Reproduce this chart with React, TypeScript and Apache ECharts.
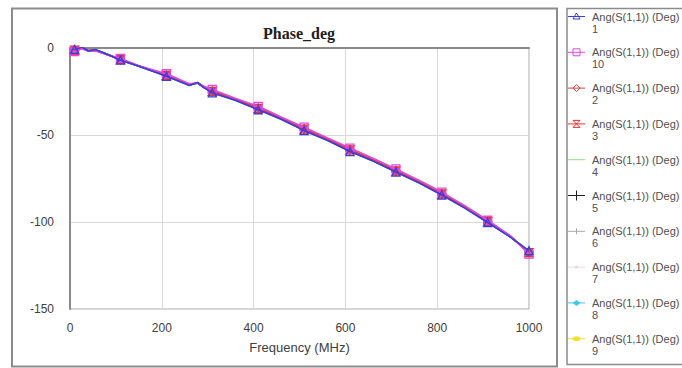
import React, { useEffect, useRef } from "react";
import * as echarts from "echarts";

// ---- data ----
const FREQ_MHZ = [10, 26, 40, 55, 80, 110, 150, 210, 260, 278, 290, 310, 360, 410, 460, 510, 560, 610, 660, 710, 760, 810, 860, 910, 960, 1000];
const MARKER_FREQ = [10, 110, 210, 310, 410, 510, 610, 710, 810, 910, 1000];
const X_TICKS = [0, 200, 400, 600, 800, 1000];
const Y_TICKS = [0, -50, -100, -150];

const S1 = [-0.8, 0.6, -1.7, -0.9, -3.5, -7.0, -10.5, -16.3, -21.5, -19.8, -22.5, -25.8, -30.0, -35.5, -41.0, -47.5, -53.0, -59.5, -65.0, -71.3, -77.5, -84.5, -92.0, -100.3, -108.8, -116.5];
const S10 = [-2.0, -0.5, -1.8, -1.6, -3.8, -6.0, -10.2, -14.8, -20.6, -20.0, -21.8, -23.8, -28.9, -33.5, -39.6, -45.5, -51.6, -57.5, -63.4, -69.5, -76.0, -82.8, -90.6, -99.0, -108.0, -118.5];
const S2 = [-1.5, 0.0, -1.5, -1.4, -3.7, -6.5, -10.4, -15.5, -21.0, -20.1, -22.0, -24.6, -29.4, -34.4, -40.2, -46.3, -52.2, -58.3, -64.2, -70.4, -76.7, -83.6, -91.2, -99.6, -108.3, -117.8];
const S3 = [-1.3, 0.2, -1.6, -1.2, -3.6, -6.6, -10.3, -15.7, -21.1, -20.0, -22.2, -24.9, -29.6, -34.7, -40.5, -46.6, -52.5, -58.6, -64.5, -70.7, -77.0, -83.9, -91.4, -99.8, -108.5, -117.6];
const S4 = [-1.2, 0.3, -1.5, -1.1, -3.6, -6.8, -10.5, -15.9, -21.2, -20.2, -22.3, -25.1, -29.8, -34.9, -40.7, -46.9, -52.7, -58.9, -64.7, -70.9, -77.2, -84.1, -91.6, -100.0, -108.6, -117.4];
const S5 = [-1.1, 0.4, -1.6, -1.0, -3.5, -6.9, -10.4, -16.0, -21.3, -20.0, -22.4, -25.3, -29.9, -35.0, -40.8, -47.1, -52.8, -59.1, -64.8, -71.0, -77.3, -84.2, -91.7, -100.1, -108.6, -117.2];
const S6 = [-1.4, 0.1, -1.7, -1.3, -3.7, -6.7, -10.6, -15.8, -21.0, -20.3, -22.1, -25.0, -29.7, -34.8, -40.6, -46.8, -52.6, -58.8, -64.6, -70.8, -77.1, -84.0, -91.5, -99.9, -108.4, -117.3];
const S7 = [-1.6, -0.2, -1.6, -1.5, -3.8, -6.4, -10.3, -15.4, -20.9, -20.2, -21.9, -24.5, -29.3, -34.2, -40.0, -46.1, -52.0, -58.1, -64.0, -70.2, -76.5, -83.4, -91.0, -99.5, -108.2, -118.0];
const S8 = [-1.0, 0.5, -1.5, -0.9, -3.4, -7.0, -10.5, -16.1, -21.4, -19.9, -22.5, -25.5, -30.0, -35.2, -40.9, -47.2, -52.9, -59.2, -64.9, -71.1, -77.4, -84.3, -91.8, -100.2, -108.7, -117.0];
const S9 = [-1.3, 0.2, -1.6, -1.2, -3.6, -6.6, -10.4, -15.6, -21.0, -20.1, -22.1, -24.8, -29.5, -34.5, -40.3, -46.4, -52.3, -58.4, -64.3, -70.5, -76.8, -83.7, -91.3, -99.7, -108.4, -117.7];

const LEGEND_ORDER = ["1", "10", "2", "3", "4", "5", "6", "7", "8", "9"];
const SERIES_VALUES: Record<string, number[]> = { "1": S1, "10": S10, "2": S2, "3": S3, "4": S4, "5": S5, "6": S6, "7": S7, "8": S8, "9": S9 };

// ---- styles ----
const COLORS: Record<string, string> = {
  "1": "#3c3cd8", "10": "#e048e0", "2": "#d04040", "3": "#f03030", "4": "#90e090",
  "5": "#202020", "6": "#a8a8a8", "7": "#f4d4d4", "8": "#40c8f0", "9": "#f0e030",
};
const Z_ORDER: Record<string, number> = { "1": 10, "10": 9, "2": 8, "3": 7, "4": 2, "5": 3, "6": 2, "7": 2, "8": 3, "9": 2 };
const SYMBOLS: Record<string, { symbol: string; size: number; filled: boolean }> = {
  "1": { symbol: "triangle", size: 8, filled: false },
  "10": { symbol: "path://M0,0L10,0L10,10L0,10Z M0,5L10,5", size: 8, filled: false },
  "2": { symbol: "diamond", size: 8, filled: false },
  "3": { symbol: "path://M0,0L10,0L0,10L10,10Z", size: 8, filled: false },
  "4": { symbol: "none", size: 0, filled: false },
  "5": { symbol: "path://M5,0L5,10 M0,5L10,5", size: 9, filled: false },
  "6": { symbol: "path://M5,0L5,10 M0,5L10,5", size: 6, filled: false },
  "7": { symbol: "circle", size: 4, filled: true },
  "8": { symbol: "diamond", size: 7, filled: true },
  "9": { symbol: "circle", size: 6, filled: true },
};

const FONT = '"Liberation Sans", Arial, sans-serif';
const LEGEND_TEXT = "Ang(S(1,1)) (Deg)";

function legendMarker(name: string, cx: number, cy: number, color: string): any[] {
  const stroke = { stroke: color, lineWidth: 1, fill: "none" };
  switch (name) {
    case "1":
      return [{ type: "polygon", shape: { points: [[cx, cy - 3.5], [cx + 3.5, cy + 2.5], [cx - 3.5, cy + 2.5]] }, style: stroke }];
    case "10":
      return [{ type: "rect", shape: { x: cx - 3.5, y: cy - 3.5, width: 7, height: 7 }, style: stroke }];
    case "2":
      return [{ type: "polygon", shape: { points: [[cx, cy - 3.5], [cx + 3.5, cy], [cx, cy + 3.5], [cx - 3.5, cy]] }, style: stroke }];
    case "3":
      return [{ type: "polygon", shape: { points: [[cx - 3.5, cy - 3.5], [cx + 3.5, cy - 3.5], [cx - 3.5, cy + 3.5], [cx + 3.5, cy + 3.5]] }, style: stroke }];
    case "5":
      return [{ type: "line", shape: { x1: cx, y1: cy - 5, x2: cx, y2: cy + 5 }, style: { stroke: color, lineWidth: 1 } }];
    case "6":
      return [{ type: "line", shape: { x1: cx, y1: cy - 3, x2: cx, y2: cy + 3 }, style: { stroke: color, lineWidth: 1 } }];
    case "7":
      return [{ type: "circle", shape: { cx, cy, r: 1.5 }, style: { fill: color } }];
    case "8":
      return [{ type: "polygon", shape: { points: [[cx, cy - 3], [cx + 4, cy], [cx, cy + 3], [cx - 4, cy]] }, style: { fill: color } }];
    case "9":
      return [{ type: "ellipse", shape: { cx, cy, rx: 4, ry: 2.5 }, style: { fill: color } }];
    default:
      return [];
  }
}

export default function App() {
  const ref = useRef<HTMLDivElement>(null);

  useEffect(() => {
    if (!ref.current) return;
    const chart = echarts.init(ref.current, undefined, { renderer: "svg" });

    const series = LEGEND_ORDER.map((name) => {
      const vals = SERIES_VALUES[name];
      const sym = SYMBOLS[name];
      const color = COLORS[name];
      return {
        name: `${LEGEND_TEXT} ${name}`,
        type: "line",
        z: Z_ORDER[name],
        showSymbol: sym.symbol !== "none",
        symbol: sym.symbol,
        symbolSize: sym.size,
        lineStyle: { color, width: 1.6 },
        itemStyle: sym.filled
          ? { color, borderColor: color, borderWidth: 1 }
          : { color: "rgba(255,255,255,0)", borderColor: color, borderWidth: 1.3 },
        data: FREQ_MHZ.map((f, i) =>
          MARKER_FREQ.includes(f) ? { value: [f, vals[i]] } : { value: [f, vals[i]], symbol: "none" }
        ),
        clip: true,
      };
    });

    const legendGraphics: any[] = [];
    LEGEND_ORDER.forEach((name, i) => {
      const cy = 16.5 + i * 35.8;
      const color = COLORS[name];
      legendGraphics.push({
        type: "line",
        shape: { x1: 568, y1: cy, x2: 585, y2: cy },
        style: { stroke: color, lineWidth: 1 },
      });
      legendGraphics.push(...legendMarker(name, 576.5, cy, color));
      legendGraphics.push({
        type: "text",
        x: 592,
        y: cy - 6,
        style: {
          text: `${LEGEND_TEXT}\n${name}`,
          font: `11px ${FONT}`,
          fill: "#505050",
          lineHeight: 12,
          textVerticalAlign: "top",
          verticalAlign: "top",
        },
      });
    });

    chart.setOption({
      animation: false,
      backgroundColor: "#ffffff",
      grid: {
        left: 70,
        right: 153,
        top: 48,
        bottom: 59,
        show: true,
        borderColor: "#a8a8a8",
        borderWidth: 1,
        backgroundColor: "#ffffff",
      },
      xAxis: {
        type: "value",
        min: X_TICKS[0],
        max: X_TICKS[X_TICKS.length - 1],
        interval: 200,
        name: "Frequency (MHz)",
        nameLocation: "middle",
        nameGap: 32,
        nameTextStyle: { fontFamily: FONT, fontSize: 13, color: "#404040", verticalAlign: "top" },
        axisLine: { show: true, lineStyle: { color: "#8a8a8a", width: 2 } },
        axisTick: { show: false },
        axisLabel: { fontFamily: FONT, fontSize: 12, color: "#404040", margin: 13, formatter: (v: number) => String(v) },
        splitLine: { show: true, lineStyle: { color: "#d8d8d8", width: 1 } },
      },
      yAxis: {
        type: "value",
        min: Y_TICKS[Y_TICKS.length - 1],
        max: Y_TICKS[0],
        interval: 50,
        axisLine: { show: true, onZero: false, lineStyle: { color: "#8a8a8a", width: 2 } },
        axisTick: { show: false },
        axisLabel: { fontFamily: FONT, fontSize: 12, color: "#404040", margin: 16, formatter: (v: number) => String(v) },
        splitLine: { show: true, lineStyle: { color: "#d8d8d8", width: 1 } },
      },
      series,
      graphic: [
        {
          type: "rect",
          z: -10,
          silent: true,
          shape: { x: 12, y: 8.5, width: 545, height: 358 },
          style: { fill: "none", stroke: "#8c8c8c", lineWidth: 2 },
        },
        {
          type: "rect",
          z: -10,
          silent: true,
          shape: { x: 567, y: 8.5, width: 116, height: 356 },
          style: { fill: "none", stroke: "#8c8c8c", lineWidth: 1.5 },
        },
        {
          type: "text",
          x: 299,
          y: 33,
          style: {
            text: "Phase_deg",
            font: 'bold 16px "Liberation Serif", "Times New Roman", serif',
            fill: "#202020",
            textAlign: "center",
            textVerticalAlign: "middle",
            align: "center",
            verticalAlign: "middle",
          },
        },
        ...legendGraphics,
      ],
    });

    return () => chart.dispose();
  }, []);

  return (
    <div
      ref={ref}
      style={{ position: "fixed", left: 0, top: 0, width: 682, height: 368, background: "#ffffff" }}
    />
  );
}
